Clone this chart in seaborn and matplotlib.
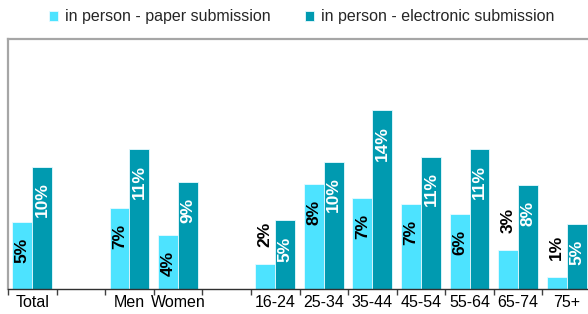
import numpy as np
import pandas as pd
import matplotlib
matplotlib.use('Agg')
import matplotlib.pyplot as plt
import seaborn as sns

# categories along the x axis (two empty slots used as separators)
categories = ['Total', 'gap1', 'Men', 'Women', 'gap2', '16-24', '25-34', '35-44',
              '45-54', '55-64', '65-74', '75+']
tick_labels = ['Total', '', 'Men', 'Women', '', '16-24', '25-34', '35-44',
               '45-54', '55-64', '65-74', '75+']

groups = ['Total', 'Men', 'Women', '16-24', '25-34', '35-44', '45-54', '55-64', '65-74', '75+']
paper = [5.4, 6.5, 4.3, 2.0, 8.4, 7.3, 6.8, 6.0, 3.1, 1.0]
electronic = [9.8, 11.2, 8.6, 5.5, 10.2, 14.3, 10.6, 11.2, 8.3, 5.2]
paper_lbl = ['5%', '7%', '4%', '2%', '8%', '7%', '7%', '6%', '3%', '1%']
electronic_lbl = ['10%', '11%', '9%', '5%', '10%', '14%', '11%', '11%', '8%', '5%']

series = ['in person - paper submission', 'in person - electronic submission']
colors = ['#4DE3FF', '#009AB0']

df = pd.DataFrame({
    'group': groups * 2,
    'value': paper + electronic,
    'series': [series[0]] * len(groups) + [series[1]] * len(groups),
})

sns.set_style('white')
plt.rcParams['font.family'] = ['Liberation Sans', 'DejaVu Sans']

fig = plt.figure(figsize=(5.88, 3.14), dpi=100)
ax = fig.add_axes([8 / 588, 25 / 314, 583 / 588, 250 / 314])

sns.barplot(data=df, x='group', y='value', hue='series', order=categories,
            hue_order=series, palette=colors, saturation=1, width=0.82, ax=ax,
            edgecolor='#E8FAFF', linewidth=0.6, legend=True)

ax.set_ylim(0, 20)
ax.set_xlim(-0.5, len(categories) - 0.5)
ax.set_yticks([])
ax.set_xlabel('')
ax.set_ylabel('')
ax.set_xticks(range(len(categories)))
ax.set_xticklabels(tick_labels, fontsize=11.5)
ax.tick_params(axis='x', which='major', bottom=True, length=0, pad=4, colors='black')
ax.set_xticks(np.arange(-0.5, len(categories), 1), minor=True)
ax.tick_params(axis='x', which='minor', bottom=True, length=4, width=1,
               color='#404040', direction='out')

for s in ['left', 'top']:
    ax.spines[s].set_color('#A6A6A6')
    ax.spines[s].set_linewidth(1.6)
ax.spines['right'].set_visible(False)
ax.spines['bottom'].set_color('#303030')
ax.spines['bottom'].set_linewidth(1)

# bar labels
for cont, labels, tc in zip(ax.containers, [paper_lbl, electronic_lbl], ['black', 'white']):
    for bar, lbl in zip(cont, labels):
        h = bar.get_height()
        x = bar.get_x() + bar.get_width() / 2
        if h >= 4:
            ax.annotate(lbl, (x, h), xytext=(0, -16), textcoords='offset pixels',
                        rotation=90, ha='center', va='top', fontsize=12.5,
                        fontweight='bold', color=tc)
        else:
            ax.annotate(lbl, (x, h), xytext=(0, 17), textcoords='offset pixels',
                        rotation=90, ha='center', va='bottom', fontsize=12.5,
                        fontweight='bold', color='black')

handles, lbls = ax.get_legend_handles_labels()
ax.get_legend().remove()
fig.legend(handles, lbls, loc='center', bbox_to_anchor=(0.513, 0.946), ncol=2,
           frameon=False, fontsize=11.5, handlelength=0.6, handleheight=0.6,
           handletextpad=0.45, columnspacing=2.1)

fig.savefig('out.png', dpi=100)
